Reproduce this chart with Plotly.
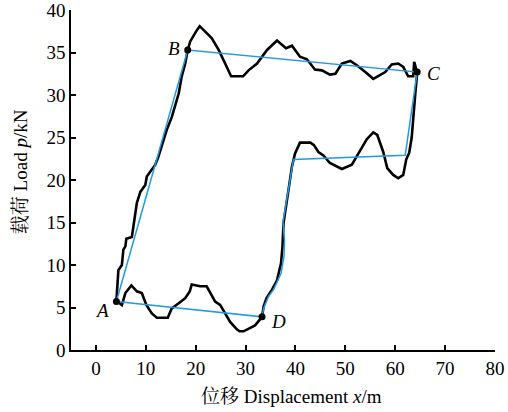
import plotly.graph_objects as go

# Measured load-displacement curve (black)
curve_x = [4.1, 4.3, 4.5, 5.2, 5.5, 5.9, 6.1, 7.2, 7.5, 7.9, 8.2, 8.9, 9.9, 10.2, 10.9, 11.9, 12.5, 13.2,
           14.2, 15.2, 15.9, 16.6, 17.2, 17.9, 18.4, 18.9, 20.2, 20.8,
           23.2, 24.6, 25.9, 27.1, 29.5, 30.6, 32.3, 34.3, 36.3, 38.1, 39.3, 40.9, 42.3, 43.9, 45.3,
           46.9, 48.0, 49.3, 51.0, 52.3, 54.0, 55.6, 58.0, 59.3, 60.6, 61.6, 62.6, 63.6, 63.8, 64.4,
           64.0, 63.7, 63.3, 62.8, 62.2, 61.6, 60.6, 59.6, 58.4, 57.6, 56.4, 55.6, 54.3, 52.6, 51.3,
           49.3, 46.9, 45.6, 44.6, 43.7, 43.0, 40.9, 39.9, 39.3, 38.9, 38.3, 37.6, 37.4, 37.1, 36.3,
           35.3, 34.2, 33.6, 33.3, 31.9, 29.6, 28.8, 28.3, 26.9, 25.9, 24.9, 23.9, 23.2, 22.2, 20.9,
           19.9, 19.2, 18.8, 17.9, 16.6, 15.2, 14.4, 12.2, 11.2, 10.1, 9.2, 8.2, 7.1, 5.9, 5.4, 5.2, 4.1]
curve_y = [5.8, 7.8, 9.4, 10.0, 11.8, 12.2, 13.1, 13.3, 14.5, 16.1, 17.3, 18.6, 19.4, 20.4, 21.0, 21.8, 22.7, 24.1,
           25.9, 27.4, 28.8, 30.2, 32.2, 33.7, 35.3, 36.3, 37.6, 38.1,
           36.7, 35.3, 33.7, 32.2, 32.2, 32.9, 33.7, 35.3, 36.4, 35.5, 35.8, 34.5, 34.2, 33.0, 32.9,
           32.4, 32.5, 33.7, 34.0, 33.5, 32.7, 31.9, 32.7, 33.6, 33.7, 33.3, 32.2, 32.2, 33.9, 32.6,
           30.0, 27.5, 25.0, 23.2, 22.4, 20.6, 20.2, 20.6, 21.4, 23.3, 25.3, 25.6, 24.8, 23.1, 21.8,
           21.3, 22.0, 22.9, 23.3, 24.1, 24.4, 24.4, 23.1, 21.6, 20.0, 17.6, 14.9, 12.2, 10.2, 8.2,
           7.1, 6.1, 5.1, 3.9, 2.9, 2.2, 2.2, 2.4, 3.3, 4.3, 5.3, 5.7, 6.5, 7.5, 7.5,
           7.6, 7.7, 6.9, 6.1, 5.5, 4.9, 3.8, 3.8, 4.3, 5.3, 6.7, 6.9, 7.6, 6.7, 5.7, 5.3, 5.8]

# Simplified model polygon (blue)
model_x = [4.1, 18.4, 64.4, 62.0, 39.6, 37.5, 37.8, 37.7, 37.1, 35.6, 34.6, 33.6, 33.3, 4.1]
model_y = [5.7, 35.3, 32.7, 22.9, 22.4, 15.1, 12.9, 11.0, 9.0, 7.1, 6.3, 4.9, 3.9, 5.7]

# Key points
point_names = ["A", "B", "C", "D"]
point_x = [4.1, 18.4, 64.4, 33.3]
point_y = [5.7, 35.3, 32.7, 3.9]
label_x = [1.2, 15.6, 67.6, 36.6]
label_y = [4.6, 35.5, 32.5, 3.3]

x_ticks = [0, 10, 20, 30, 40, 50, 60, 70, 80]
y_ticks = [0, 5, 10, 15, 20, 25, 30, 35, 40]

x_title = "位移 Displacement <i>x</i>/m"
y_title = "载荷 Load <i>p</i>/kN"

serif = "Liberation Serif, Times New Roman, Noto Serif CJK SC, Noto Sans CJK SC, serif"

fig = go.Figure()
fig.add_trace(go.Scatter(x=curve_x, y=curve_y, mode="lines",
                         line=dict(color="black", width=2.6), hoverinfo="skip"))
fig.add_trace(go.Scatter(x=model_x, y=model_y, mode="lines",
                         line=dict(color="#1f9be6", width=1.5), hoverinfo="skip"))
fig.add_trace(go.Scatter(x=point_x, y=point_y, mode="markers",
                         marker=dict(color="black", size=7), hoverinfo="skip"))

for n, lx, ly in zip(point_names, label_x, label_y):
    fig.add_annotation(x=lx, y=ly, text=f"<i>{n}</i>", showarrow=False,
                       font=dict(family=serif, size=19, color="black"))

fig.add_annotation(xref="paper", yref="paper", x=0.519, y=-0.138, text=x_title,
                   showarrow=False, xanchor="center", yanchor="middle",
                   font=dict(family=serif, size=19, color="black"))
fig.add_annotation(xref="paper", yref="paper", x=-0.12, y=0.5235, text=y_title,
                   showarrow=False, xanchor="center", yanchor="middle", textangle=-90,
                   font=dict(family=serif, size=19, color="black"))

fig.update_layout(
    width=508, height=412,
    margin=dict(l=71, r=13, t=10, b=62, autoexpand=False),
    paper_bgcolor="white", plot_bgcolor="white",
    showlegend=False,
    font=dict(family=serif, size=19, color="black"),
)
fig.update_xaxes(range=[-5, 80], tickvals=x_ticks, ticktext=[str(v) for v in x_ticks],
                 ticks="inside", ticklen=5, tickwidth=1.5, tickcolor="black",
                 showline=True, linewidth=1.5, linecolor="black",
                 showgrid=False, zeroline=False, automargin=False,
                 ticklabeloverflow="allow",
                 tickfont=dict(family=serif, size=19))
fig.update_yaxes(range=[0, 40], tickvals=y_ticks, ticktext=[str(v) for v in y_ticks],
                 ticks="inside", ticklen=5, tickwidth=1.5, tickcolor="black",
                 showline=True, linewidth=1.5, linecolor="black",
                 showgrid=False, zeroline=False, automargin=False,
                 ticklabeloverflow="allow",
                 tickfont=dict(family=serif, size=19))

fig.write_html("out.html", config={"displayModeBar": False},
               post_script="document.body.style.margin='0';document.body.style.padding='0';")
